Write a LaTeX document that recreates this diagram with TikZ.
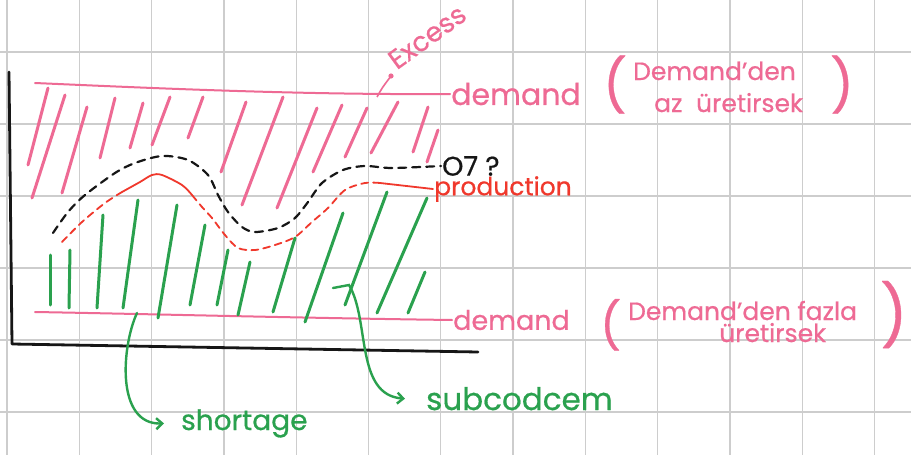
\documentclass[tikz,border=0pt]{standalone}
\usepackage{fontspec}
\setmainfont{Poppins}[FakeBold=0.6]
\usetikzlibrary{arrows.meta,positioning}
\definecolor{skPink}{HTML}{EE6A94}
\definecolor{skGreen}{HTML}{2AA14E}
\definecolor{skRed}{HTML}{F0382C}
\definecolor{skInk}{HTML}{161616}
\definecolor{skGrid}{HTML}{CDCDCD}
\tikzset{
  gridline/.style={skGrid, line width=1.3pt},
  axisline/.style={skInk, line width=2.8pt, line cap=round, line join=round},
  demandline/.style={skPink, line width=2pt, line cap=round},
  excesshatch/.style={skPink, line width=3pt, line cap=round},
  shorthatch/.style={skGreen, line width=3pt, line cap=round},
  otcurve/.style={skInk, line width=2.2pt, dash pattern=on 8pt off 6pt, line cap=round},
  prodcurve/.style={skRed, line width=1.8pt, line cap=round},
  proddash/.style={prodcurve, dash pattern=on 7pt off 5pt},
  leader/.style={skGreen, line width=2.4pt, line cap=round, -{Straight Barb[length=6pt, width=11pt]}},
  handtext/.style={inner sep=1pt, font=\fontsize{27}{30}\selectfont},
  pinktag/.style={handtext, text=skPink},
  greentag/.style={handtext, text=skGreen, font=\fontsize{28}{30}\selectfont},
  parenbig/.style={pinktag, inner sep=0pt, anchor=base west}
}
\begin{document}
\begin{tikzpicture}[x=1pt, y=-1pt]
  \useasboundingbox[fill=white] (0,0) rectangle (911,455);
  % squared paper
  \foreach \k in {0,...,12}
    \draw[gridline] (7+72.3*\k,0) -- (7+72.3*\k,455);
  \foreach \k in {0,...,5}
    \draw[gridline] (0,52+72*\k) -- (911,52+72*\k);

  % labels on the right
  \node[pinktag, anchor=west, font=\fontsize{30}{32}\selectfont] (dtop) at (450,94) {demand};
  \node[parenbig, font=\fontsize{52}{54}\selectfont] (lpa) at (603,104) {(};
  \node[pinktag, anchor=base west, font=\fontsize{25}{28}\selectfont] (da) at (632,80) {Demand'den};
  \node[pinktag, anchor=base west, font=\fontsize{25}{28}\selectfont] (db) at (653,112) {az \;üretirsek};
  \node[parenbig, font=\fontsize{52}{54}\selectfont] (rpa) at (830,104) {)};

  \node[pinktag, anchor=west] (dbot) at (452,320) {demand};
  \node[parenbig, font=\fontsize{46}{48}\selectfont] (lpb) at (600,342) {(};
  \node[pinktag, anchor=base west, font=\fontsize{25}{28}\selectfont] (dc) at (627,320) {Demand'den fazla};
  \node[pinktag, anchor=base west, font=\fontsize{25}{28}\selectfont] (dd) at (718,342) {üretirsek};
  \node[parenbig, font=\fontsize{60}{62}\selectfont] (rpb) at (880,337) {)};

  \node[handtext, text=skRed, anchor=west, font=\fontsize{25}{28}\selectfont] (prod) at (433,189) {production};
  \node[handtext, text=skInk, anchor=west, font=\fontsize{27}{29}\selectfont] (ot) at (441,166) {O7 ?};
  \node[pinktag, rotate=36, anchor=base west, font=\fontsize{27}{29}\selectfont] (ex) at (396,71) {Excess};
  \node[greentag, anchor=base west] (short) at (180,430) {shortage};
  \node[greentag, anchor=base west, font=\fontsize{31}{33}\selectfont] (sub) at (425,410) {subcodcem};

  % axes
  \draw[axisline] (9,72) -- (12,344) -- (478,352);

  % demand levels
  \draw[demandline] (35,83) .. controls (150,88) and (300,95) .. (dtop.west);
  \draw[demandline] (35,312) .. controls (150,314) and (300,318) .. (dbot.west);

  % excess hatching
  \foreach \xa/\ya/\xb/\yb in {48/88/28/165, 65/95/32/198, 87/107/62/193, 115/98/100/158,
      143/103/130/148, 170/97/152/145, 203/97/188/138, 246/102/221/172, 283/97/242/205,
      317/108/277/208, 342/105/313/172, 367/108/345/157, 398/102/371/153, 428/107/413/152,
      438/130/427/162}
    \draw[excesshatch] (\xa,\ya) -- (\xb,\yb);

  % shortage hatching
  \foreach \xa/\ya/\xb/\yb in {50/255/50/305, 70/250/69/308, 103/215/97/308, 138/200/123/308,
      177/205/158/318, 205/225/190/305, 228/250/217/305, 250/262/238/315, 295/238/273/312,
      343/213/305/322, 387/192/345/305, 427/198/377/313, 425/272/408/313}
    \draw[shorthatch] (\xa,\ya) -- (\xb,\yb);

  % overtime curve
  \draw[otcurve] plot[smooth] coordinates {(53,233) (68,212) (85,195) (115,173) (135,163)
      (162,156) (188,160) (208,175) (218,195) (228,212) (242,227) (255,232) (278,228)
      (295,218) (308,202) (322,183) (343,170) (365,166) (392,168) (ot.west)};

  % production curve
  \draw[proddash] plot[smooth] coordinates {(62,242) (82,222) (105,203) (122,192)};
  \draw[prodcurve] plot[smooth] coordinates {(122,192) (140,182) (152,175) (162,175)
      (182,185) (192,195)};
  \draw[proddash] plot[smooth] coordinates {(192,195) (202,207) (212,218) (225,235)
      (238,248) (255,250) (275,245) (295,237) (312,222) (328,208) (345,190) (365,183)
      (380,183)};
  \draw[prodcurve] (380,183) -- (prod.west);

  % excess pointer
  \coordinate (exroot) at (377,97);
  \coordinate (exdot) at (391,76);
  \draw[skPink, line width=1.6pt] (exroot) .. controls (382,88) .. (exdot);
  \fill[skPink] (exdot) circle (2.6);

  % leaders to green labels
  \coordinate (shA) at (137,313);
  \draw[leader] (shA) .. controls (122,345) and (115,425) .. ([xshift=-16pt]short.west);
  \coordinate (suA) at (333,288);
  \draw[leader] (suA) -- (349,285) .. controls (370,320) and (355,395) .. ([xshift=-20pt]sub.west);
\end{tikzpicture}
\end{document}
